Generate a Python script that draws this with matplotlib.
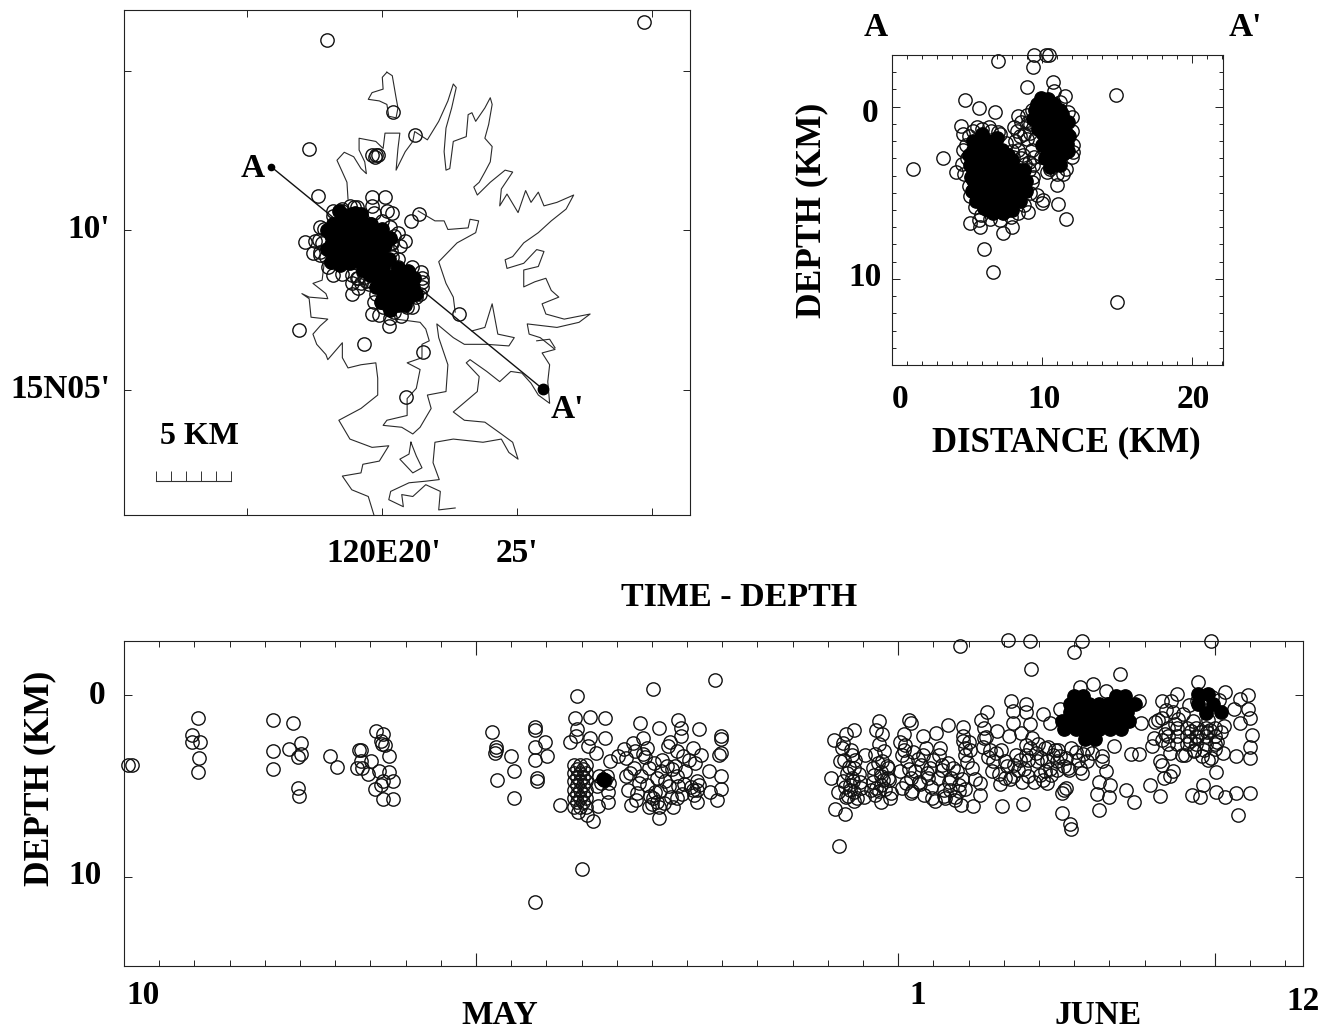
"""Seismicity figure: epicentre map, A-A' depth section and time-depth panel."""
import matplotlib
matplotlib.use("Agg")
import matplotlib.pyplot as plt
from matplotlib.ticker import FixedLocator

plt.rcParams["font.family"] = ["Liberation Serif", "DejaVu Serif"]
plt.rcParams["font.weight"] = "bold"

W, H = 1321, 1032

# --- map: longitude minutes past 120E, latitude minutes past 15N ---
coast_a_lon = [18.74, 18.70, 18.53, 18.33, 18.60, 18.95, 19.22, 19.42, 19.36, 19.15, 19.15, 19.77, 20.04, 20.11, 20.66, 20.59, 20.52, 20.86, 21.14, 21.21, 21.68, 22.10, 22.44, 22.64, 22.75, 22.58, 22.37, 22.30, 22.37, 22.51, 22.64, 23.12, 23.19, 23.33, 23.47, 23.81, 24.01, 24.08, 23.95, 23.81, 24.08, 24.01, 23.81, 23.60, 23.40, 23.53, 24.01, 24.56, 24.84, 24.42, 24.36, 24.63, 25.04, 25.32, 25.52, 25.79, 26.00, 26.48, 27.10, 26.82, 26.27, 25.79, 25.25, 24.84, 24.56, 24.63, 25.25, 25.73, 26.00, 25.79, 25.25, 25.25, 25.66, 26.07, 26.27, 26.55, 25.93, 26.07, 26.75, 27.71, 27.30, 26.48, 25.38, 25.45, 25.86, 26.41, 25.93, 26.21, 26.14, 26.21, 25.79, 25.52, 25.18, 24.77, 24.36, 23.88, 23.26, 23.12, 23.60, 23.53, 22.64, 23.05, 23.81, 24.42, 24.84, 25.04, 24.70, 24.42, 23.74, 22.64, 21.96, 21.89, 22.12, 21.62, 21.00, 20.32, 20.25, 20.79, 20.73, 21.14, 21.62, 22.16, 22.10, 22.71]
coast_a_lat = [10.97, 11.50, 11.82, 12.19, 12.44, 12.30, 11.93, 11.77, 12.14, 12.51, 12.88, 12.78, 12.56, 13.04, 13.04, 12.56, 11.88, 12.46, 12.78, 13.09, 12.83, 13.41, 14.05, 14.58, 14.47, 13.83, 13.20, 12.46, 11.88, 11.93, 12.78, 12.93, 13.62, 13.68, 13.41, 13.83, 14.15, 13.94, 13.31, 12.88, 12.62, 12.14, 11.82, 11.50, 11.35, 11.10, 11.50, 11.88, 11.82, 11.29, 10.76, 11.13, 10.55, 11.24, 10.87, 11.19, 10.76, 10.87, 11.10, 10.66, 10.29, 9.92, 9.60, 9.17, 9.07, 8.80, 8.96, 9.39, 9.33, 8.86, 8.75, 8.22, 8.38, 8.49, 8.11, 7.90, 7.69, 7.37, 7.21, 7.37, 7.11, 6.95, 7.06, 6.74, 6.63, 6.26, 6.15, 5.78, 5.25, 4.57, 4.83, 5.20, 5.52, 5.57, 5.25, 5.57, 5.94, 5.84, 5.41, 4.94, 4.30, 4.04, 3.98, 3.61, 3.35, 2.82, 3.03, 3.45, 3.35, 3.45, 3.35, 2.71, 2.18, 2.13, 2.08, 1.81, 1.55, 1.33, 1.71, 1.65, 2.02, 1.81, 1.23, 1.29]
coast_b_lon = [17.85, 17.78, 17.44, 17.92, 17.99, 17.30, 17.03, 17.30, 17.37, 17.99, 17.71, 17.44, 17.58, 17.92, 17.99, 18.53, 18.53, 18.74, 19.22, 19.77, 19.84, 19.84, 19.22, 18.40, 18.81, 19.63, 20.25, 19.90, 19.29, 19.22, 18.53, 18.88, 19.49, 19.70]
coast_b_lat = [8.91, 8.43, 8.33, 8.01, 7.85, 7.90, 8.01, 7.85, 7.27, 7.21, 7.00, 6.74, 6.42, 6.10, 5.94, 6.47, 6.00, 5.68, 5.78, 5.84, 5.36, 4.83, 4.41, 4.04, 3.45, 3.19, 3.24, 2.76, 2.66, 2.39, 2.29, 1.86, 1.65, 1.07]
coast_c_lon = [20.52, 21.41, 21.62, 21.75, 21.48, 21.48, 20.93, 21.41, 21.27, 20.93, 20.93, 20.18, 20.04, 20.73, 21.14, 21.41, 21.82, 21.68, 22.37, 22.44, 22.10, 22.03, 22.64, 23.05, 23.88, 24.70, 24.90, 24.29, 24.08, 23.81, 23.33]
coast_c_lat = [7.21, 7.11, 6.90, 6.53, 6.42, 6.00, 5.84, 5.63, 5.04, 4.72, 4.19, 4.04, 3.88, 3.82, 3.61, 3.82, 4.41, 4.83, 4.94, 5.78, 6.63, 7.06, 6.63, 6.42, 6.42, 6.37, 6.63, 6.74, 7.69, 6.95, 6.84]
coast_d_lon = [21.34, 21.96, 22.30, 22.44, 23.19, 23.26, 23.58, 23.47, 22.78, 22.10, 22.37, 22.64, 22.71]
coast_d_lat = [10.60, 10.29, 10.29, 10.02, 10.07, 10.34, 10.29, 9.92, 9.60, 9.01, 8.33, 7.90, 7.43]
coast_e_lon = [20.18, 20.38, 20.52, 20.59, 20.52, 20.25, 20.18, 19.90, 19.49, 19.63, 20.04, 20.01, 20.18]
coast_e_lat = [14.95, 14.84, 14.15, 13.83, 13.52, 13.57, 13.94, 14.05, 14.10, 14.31, 14.42, 14.79, 14.95]
coast_f_lon = [21.07, 21.27, 21.48, 21.14, 20.66, 21.00, 21.07]
coast_f_lat = [3.35, 2.92, 2.55, 2.39, 2.82, 2.98, 3.35]
coast_g_lon = [25.73, 26.21, 26.41]
coast_g_lat = [6.53, 6.58, 6.31]
coast_lon = [coast_a_lon, coast_b_lon, coast_c_lon, coast_d_lon, coast_e_lon, coast_f_lon, coast_g_lon]
coast_lat = [coast_a_lat, coast_b_lat, coast_c_lat, coast_d_lat, coast_e_lat, coast_f_lat, coast_g_lat]

map_lon = [17.95, 29.70, 20.42, 21.21, 17.30, 19.77, 19.63, 19.86, 19.74, 17.62, 20.11, 19.63, 19.63, 19.70, 20.38, 20.18, 21.38, 21.07, 20.86, 17.16, 17.51, 17.44, 17.71, 18.19, 18.53, 18.88, 18.88, 19.63, 20.27, 16.93, 19.33, 21.52, 22.85, 20.89, 21.48, 21.48, 20.45, 20.38, 19.08, 18.53,
           17.85, 17.78, 17.92, 18.19, 18.53, 18.95, 19.36, 19.90, 20.32, 20.38, 20.32, 19.77, 20.04, 20.45, 20.93, 21.27, 21.48, 19.36, 19.08, 19.22,
           17.70, 17.65, 17.70, 18.00, 18.20, 18.80, 18.90, 19.10, 19.30, 19.40, 19.10, 19.50, 20.60, 20.65, 20.60, 20.50, 20.00, 20.30,
           19.60, 19.70, 19.90, 20.30, 20.70, 21.10, 21.40, 21.45, 21.10, 20.60, 20.10]
map_lat = [15.95, 16.51, 13.71, 12.99, 12.54, 12.35, 12.37, 12.37, 12.28, 11.08, 11.05, 11.03, 10.76, 10.55, 10.53, 10.60, 10.52, 10.29, 9.65, 9.62, 9.65, 9.28, 9.23, 8.59, 8.62, 8.01, 8.35, 7.37, 7.00, 6.86, 6.42, 6.19, 7.37, 4.78, 8.49, 8.22, 9.81, 9.17, 10.71, 10.60,
           10.02, 9.60, 9.17, 10.44, 10.66, 10.71, 10.13, 9.92, 9.60, 9.60, 9.33, 8.01, 7.58, 7.43, 7.58, 7.90, 8.38, 8.54, 8.49, 8.33,
           10.10, 9.70, 9.30, 8.85, 10.60, 10.75, 8.60, 8.50, 8.70, 8.40, 8.20, 8.30, 9.90, 9.50, 9.10, 8.80, 10.30, 10.10,
           8.40, 7.75, 7.35, 7.25, 7.30, 7.60, 8.00, 8.70, 8.85, 8.85, 8.80]
map_core_lon = [18.53, 18.88, 19.22,
                18.19, 18.53, 18.88, 19.22, 19.56,
                18.12, 18.47, 18.81, 19.15, 19.49, 19.84,
                18.12, 18.47, 18.81, 19.15, 19.49, 19.84, 20.11,
                18.26, 18.60, 18.95, 19.29, 19.63, 19.97,
                18.81, 19.22, 19.63,
                19.90, 20.32, 20.73, 21.07,
                19.77, 20.11, 20.45, 20.79, 21.14,
                20.04, 20.38, 20.73, 21.00,
                20.25, 20.59, 20.86,
                17.97, 17.95, 18.10, 18.45, 20.25, 20.28, 20.00, 19.60, 19.00, 18.40, 19.30, 19.55, 19.70, 19.85,
                20.05, 20.60, 20.95, 21.20, 21.25, 19.95, 20.30]
map_core_lat = [10.50, 10.50, 10.50,
                10.18, 10.18, 10.18, 10.18, 10.18,
                9.86, 9.86, 9.86, 9.86, 9.86, 9.86,
                9.54, 9.54, 9.54, 9.54, 9.54, 9.54, 9.54,
                9.23, 9.23, 9.23, 9.23, 9.23, 9.23,
                8.96, 8.96, 8.96,
                8.54, 8.54, 8.54, 8.54,
                8.22, 8.22, 8.22, 8.22, 8.22,
                7.90, 7.90, 7.90, 7.90,
                7.64, 7.64, 7.64,
                10.00, 9.40, 9.00, 8.92, 9.10, 9.75, 10.05, 10.20, 10.55, 10.60, 8.75, 8.60, 8.85, 8.95,
                8.85, 8.80, 8.72, 8.50, 8.00, 7.75, 7.50]
profile_lon = [15.90, 25.97]
profile_lat = [11.98, 5.01]
lon_ticks = [15, 20, 25, 30]
lat_ticks = [5, 10, 15]
scale_lon = [11.63, 12.19, 12.74, 13.30, 13.85, 14.41]

# --- depth section ---
sec_dist = [1.42, 3.42, 4.27, 4.87, 5.80, 6.87, 7.09, 4.60, 5.69, 6.47, 7.09, 9.49, 10.27, 10.49, 9.42, 9.02, 10.71, 10.80, 11.53, 14.93, 15.02, 6.71, 6.13, 5.20, 5.87, 5.80, 7.42, 7.98, 9.09, 11.60, 11.09, 10.09, 9.98, 9.64, 10.98, 11.42, 10.53, 12.09, 12.09, 11.96, 8.42, 8.13, 8.53, 9.09, 8.98, 8.42, 9.42, 8.87, 4.76, 4.64, 4.76, 9.31, 9.47, 8.09,
            4.90, 5.00, 4.80, 5.10, 5.20, 5.50, 5.90, 6.50, 7.20, 7.90, 8.40, 8.80, 9.20, 9.30, 9.10, 8.60, 8.00, 7.60, 7.20, 6.60, 6.00, 5.40, 5.10,
            9.30, 9.20, 9.50, 9.90, 10.30, 11.00, 11.60, 12.00, 12.00, 11.70, 11.20,
            8.30, 8.20, 8.70, 9.10, 8.60, 9.20, 9.40, 8.80, 9.00]
sec_depth = [3.60, 2.97, 3.80, -0.39, 0.08, 0.33, -2.66, 1.10, 1.16, 1.19, 1.48, -2.99, -2.99, -2.99, -2.33, -1.12, -1.46, -0.92, -0.64, -0.66, 11.37, 9.58, 8.27, 6.74, 6.97, 6.59, 7.32, 7.01, 6.11, 6.53, 5.63, 5.43, 5.59, 5.14, 4.57, 3.89, 3.60, 2.64, 2.25, 0.62, 0.52, 1.16, 1.68, 0.91, 1.87, 2.54, 4.08, 3.31, 2.54, 3.31, 1.58, 2.54, 2.93, 2.93,
             2.20, 3.00, 3.90, 4.60, 5.20, 5.80, 6.30, 6.50, 6.60, 6.40, 6.20, 5.70, 5.00, 4.40, 3.70, 3.00, 2.60, 2.10, 1.60, 1.40, 1.30, 1.40, 1.70,
             0.20, 1.00, 1.90, 2.90, 3.80, 3.90, 3.60, 2.90, 1.40, 0.30, -0.30,
             1.40, 2.00, 2.80, 3.20, 0.90, 1.50, 3.40, 1.60, 0.50]
sec_core_dist = [5.64, 6.31, 6.87,
                 5.42, 6.09, 6.76, 7.31,
                 5.42, 6.09, 6.76, 7.42,
                 5.42, 6.09, 6.76, 7.42, 8.09, 8.53,
                 5.42, 6.09, 6.76, 7.42, 8.09, 8.64,
                 5.42, 6.09, 6.76, 7.42, 8.09, 8.64,
                 5.76, 6.42, 7.09, 7.76, 8.42,
                 6.42, 7.09, 7.76,
                 9.64, 10.20, 10.76,
                 9.64, 10.20, 10.76, 11.31,
                 9.98, 10.53, 11.09, 11.53,
                 10.09, 10.64, 11.20, 11.64,
                 10.20, 10.76, 11.31, 11.64,
                 10.31, 10.87, 11.42,
                 10.53, 11.09,
                 5.20, 5.25, 5.30, 5.60, 6.10, 6.75, 7.40, 8.00, 8.50, 8.90, 8.95, 8.80, 8.00, 7.70, 7.00, 6.00, 5.40, 5.10,
                 9.50, 9.40, 9.70, 10.00, 10.20, 10.50, 11.20, 11.70, 11.80, 11.70, 11.20, 10.40, 9.90]
sec_core_depth = [1.97, 1.97, 1.97,
                  2.54, 2.54, 2.54, 2.54,
                  3.12, 3.12, 3.12, 3.12,
                  3.70, 3.70, 3.70, 3.70, 3.70, 3.70,
                  4.28, 4.28, 4.28, 4.28, 4.28, 4.28,
                  4.86, 4.86, 4.86, 4.86, 4.86, 4.86,
                  5.43, 5.43, 5.43, 5.43, 5.43,
                  6.01, 6.01, 6.01,
                  -0.15, -0.15, -0.15,
                  0.42, 0.42, 0.42, 0.42,
                  1.00, 1.00, 1.00, 1.00,
                  1.58, 1.58, 1.58, 1.58,
                  2.16, 2.16, 2.16, 2.16,
                  2.74, 2.74, 2.74,
                  3.22, 3.22,
                  3.40, 4.10, 4.90, 5.50, 5.90, 6.15, 6.20, 6.00, 5.50, 4.90, 4.30, 3.70, 3.10, 2.80, 1.80, 1.60, 2.00, 2.80,
                  0.20, 0.70, 1.30, 2.20, 3.00, 3.50, 3.40, 2.60, 1.70, 0.90, 0.20, -0.45, -0.50]

# --- time-depth: days after 10 May ---
may_day = [0.11, 0.22, 2.10, 1.93, 1.93, 2.15, 2.12, 2.11, 4.22, 4.81, 5.04, 4.24, 4.69, 5.02, 4.94, 4.23, 4.94, 4.98, 5.84, 6.06, 6.68, 6.73, 7.16, 7.37, 7.30, 7.33, 7.43, 7.54, 6.73, 7.01, 6.76, 6.94, 7.24, 7.52, 7.65, 7.35, 7.30, 7.13, 7.35, 7.63, 6.62,
           10.45, 10.57, 10.55, 10.58, 11.00, 10.61, 11.07, 11.08, 11.67, 11.67, 11.95, 11.69, 12.03, 11.69, 11.73, 11.73, 11.67, 13.00, 12.88, 12.82, 13.24, 13.67, 12.88, 12.68, 13.24, 13.67, 12.85, 12.40, 13.32, 12.91, 13.16, 13.47, 13.75, 13.75, 13.41, 13.80, 13.19,
           12.79, 12.96, 13.13, 12.79, 12.96, 13.13, 12.79, 12.96, 13.13, 12.79, 12.96, 13.13, 12.79, 12.96, 13.13, 12.79, 12.96, 13.13,
           12.87, 13.05, 12.87, 13.05, 12.87, 13.05, 12.87, 13.05, 12.87, 13.05,
           13.50, 13.72, 13.55, 13.78, 13.66, 13.44,
           14.65, 15.19, 15.74, 16.33, 15.02, 16.78, 14.76, 14.46, 14.20, 14.03, 14.25, 14.48, 14.25, 14.31, 14.59, 14.42, 14.76, 14.87, 14.70, 14.93, 15.15, 14.87, 15.10, 15.15, 15.04, 15.21, 14.93, 15.21, 15.60, 15.71, 15.74, 15.71, 15.66, 15.47, 15.82, 15.82, 15.71, 16.16, 16.22, 15.43, 15.37, 15.94, 16.27, 16.27, 16.18, 16.27, 16.61, 16.95, 16.95, 16.66, 16.84, 16.95, 16.97, 16.95, 16.92,
           14.52, 14.80, 15.05, 15.30, 15.52, 15.88, 16.05, 16.40, 14.38, 14.62, 15.26, 15.58, 15.90, 16.12, 16.35, 14.95, 15.24, 15.48, 15.86, 15.00, 15.35, 15.55, 14.55, 16.20]
may_depth = [3.86, 3.86, 1.24, 2.22, 2.57, 2.57, 3.46, 4.23, 1.35, 1.53, 2.62, 3.09, 2.99, 3.27, 3.42, 4.07, 5.12, 5.53, 3.35, 3.97, 3.05, 3.00, 1.98, 2.13, 2.53, 2.68, 2.75, 3.36, 3.64, 3.64, 4.01, 4.34, 4.20, 4.23, 4.75, 4.75, 4.94, 5.18, 5.71, 5.71, 4.01,
             2.05, 2.87, 3.18, 3.00, 3.33, 4.68, 4.20, 5.67, 1.76, 1.94, 2.57, 2.87, 3.36, 3.60, 4.57, 4.75, 11.40, 9.59, 0.04, 1.24, 1.20, 1.28, 1.89, 2.57, 2.35, 2.38, 2.25, 6.04, 6.93, 6.41, 6.60, 6.10, 5.86, 5.31, 3.18, 3.64, 2.81,
             3.83, 3.83, 3.83, 4.29, 4.29, 4.29, 4.75, 4.75, 4.75, 5.21, 5.21, 5.21, 5.67, 5.67, 5.67, 6.14, 6.14, 6.14,
             4.05, 4.05, 4.51, 4.51, 4.97, 4.97, 5.43, 5.43, 5.90, 5.90,
             4.48, 4.48, 4.85, 4.85, 4.66, 5.03,
             1.55, 1.79, 1.37, 1.89, -0.35, -0.85, 2.35, 2.62, 2.99, 3.36, 3.49, 4.01, 4.47, 5.21, 5.40, 6.04, 3.27, 2.90, 4.47, 4.01, 4.57, 4.94, 5.31, 5.86, 5.67, 6.14, 6.14, 6.78, 6.14, 5.67, 5.03, 4.47, 3.92, 2.81, 1.79, 2.25, 3.09, 2.90, 3.73, 3.92, 4.75, 4.20, 4.75, 5.21, 5.21, 5.86, 4.20, 4.47, 5.16, 5.31, 5.77, 2.25, 2.44, 3.18, 3.31,
             3.10, 3.40, 3.75, 3.55, 2.60, 3.35, 3.60, 3.30, 4.30, 4.85, 4.20, 4.05, 4.90, 5.05, 4.95, 5.55, 5.30, 5.00, 5.45, 6.00, 5.95, 5.60, 5.75, 5.50]
june_day = [23.76, 25.11, 25.73, 27.22, 26.98, 25.77, 28.29, 30.88, 20.33,
            20.08, 20.16, 20.73, 20.52, 20.39, 20.68, 20.35, 20.73, 21.06, 20.68, 20.30, 20.52, 20.73, 20.95, 20.21, 20.50, 20.84, 20.63,
            21.44, 21.55, 21.44, 21.55, 21.28, 21.71, 21.50, 21.28, 21.71, 21.50, 21.77, 21.50, 21.33,
            22.31, 22.15, 22.36, 22.69, 23.07, 23.40, 23.83, 22.80, 23.18, 22.15, 22.26, 22.64, 22.04, 22.36, 22.91, 22.85, 22.58, 22.36, 22.96, 23.29, 23.45, 23.34, 23.61, 23.78, 24.13, 24.32, 24.32, 23.89, 23.83, 23.83, 23.89, 24.10, 23.56, 23.23, 23.72,
            24.52, 24.43, 24.43, 24.81, 25.14, 24.70, 24.67, 24.89, 24.94, 25.54, 25.19, 25.25, 25.63, 25.63, 26.11, 25.25, 25.73, 25.79, 25.35, 25.03, 25.63, 25.52, 25.68, 25.25,
            26.17, 26.39, 25.95, 26.22, 26.50, 26.77, 26.17, 26.50, 26.82, 27.15, 26.22, 26.66, 26.77, 26.72, 26.64, 26.88, 26.91, 26.60, 26.30,
            27.53, 27.15, 27.91, 28.83, 28.89, 28.61, 28.83, 27.80, 28.13, 27.91, 27.69, 28.02, 27.64, 27.98, 28.48, 28.69, 27.69, 27.80, 27.36,
            29.38, 29.48, 29.92, 29.76, 29.27, 29.21, 29.43, 29.48, 29.81, 29.54, 29.71, 29.14, 29.43, 29.59, 29.87, 30.14, 30.41, 30.79, 31.04, 31.22, 30.65, 30.35, 30.57, 31.04, 31.28, 31.60, 31.98, 31.66, 30.52, 31.28, 31.55, 31.71, 31.93, 31.93, 31.98, 31.71, 32.04, 31.98, 31.98, 31.60,
            29.65, 29.92, 30.19, 30.46, 30.73, 31.01, 29.65, 29.92, 30.19, 30.46, 30.73, 31.01, 29.65, 29.92, 30.19, 30.46, 30.73, 31.01]
june_depth = [-2.69, -3.00, -2.98, -2.98, -2.37, -1.44, -1.13, -2.98, 8.28,
              4.54, 2.50, 1.93, 2.17, 2.91, 3.28, 3.65, 4.02, 3.28, 4.57, 5.31, 5.59, 5.31, 5.13, 6.24, 6.52, 5.69, 4.94,
              1.43, 2.17, 2.72, 3.65, 4.02, 4.02, 4.48, 4.76, 4.57, 4.94, 5.65, 5.87, 5.50,
              1.39, 2.17, 1.52, 2.26, 2.07, 1.65, 1.76, 2.91, 2.91, 3.00, 3.65, 3.83, 4.20, 4.57, 4.02, 4.57, 4.76, 5.41, 5.69, 5.22, 4.76, 5.69, 5.59, 6.06, 6.11, 5.50, 4.85, 3.28, 2.54, 2.26, 2.91, 4.02, 4.02, 3.83, 4.94,
              0.96, 1.80, 2.35, 1.98, 2.26, 3.65, 4.20, 4.89, 6.09, 6.00, 0.31, 0.87, 0.50, 0.96, 1.06, 1.52, 1.61, 2.35, 3.28, 3.65, 3.28, 4.76, 4.48, 4.48,
              2.91, 3.28, 3.65, 3.65, 3.65, 3.46, 4.20, 4.11, 4.02, 4.02, 4.85, 5.41, 5.13, 5.25, 6.46, 7.07, 7.35, 0.78, 1.52,
              -0.61, -0.43, -0.24, 0.31, 1.52, 3.24, 3.22, 3.37, 2.81, 4.20, 4.76, 4.94, 5.46, 5.59, 5.22, 5.87, 6.30, 3.65, 3.65,
              1.39, 0.31, -0.06, 0.31, 2.35, 2.81, 3.65, 3.83, 4.20, 4.57, 4.48, 4.94, 5.54, 2.17, 1.61, 3.28, 3.09, 3.56, 4.24, 3.19, 4.94, 5.50, 5.59, 5.35, 5.63, 5.41, 5.41, 6.57, -0.70, -0.15, 0.78, 0.22, -0.02, 0.78, 1.24, 1.52, 2.22, 2.87, 3.46, 3.37,
              1.80, 1.80, 1.80, 1.80, 1.80, 1.80, 2.26, 2.26, 2.26, 2.26, 2.26, 2.26, 2.72, 2.72, 2.72, 2.72, 2.72, 2.72]
# the denser parts of the band, where circles overlap heavily
band_day = [20.45, 20.60, 20.78, 20.55, 20.42, 20.70, 20.88, 20.48, 20.62, 20.90, 20.58, 20.75, 21.02, 20.44, 20.66,
            21.35, 21.60, 21.42, 21.68, 21.30, 21.52, 21.75, 21.38, 21.62, 21.46, 21.80, 21.22, 21.58, 21.36,
            22.05, 22.20, 22.42, 22.12, 22.30, 22.55, 22.22, 22.48, 22.70, 22.10, 22.38, 22.62, 22.82, 23.00, 22.74, 23.15, 22.92, 23.25, 23.05, 23.40, 23.12, 23.50, 23.30, 23.66, 23.48, 23.80, 23.62, 23.95, 23.72, 24.05, 23.90, 24.18, 24.02,
            24.35, 24.50, 24.62, 24.40, 24.55, 24.78, 24.92, 25.08, 24.85, 25.02, 25.30, 25.45, 25.18, 25.40, 25.58, 25.75, 25.50, 25.85, 25.62, 25.92, 25.70, 26.05, 25.98, 26.10, 26.30, 26.02, 26.25, 26.45, 26.60, 26.35, 26.70, 26.55, 26.92, 26.85, 27.05, 27.25, 27.10, 27.35, 27.50, 27.22,
            29.30, 29.48, 29.62, 29.80, 29.95, 30.10, 30.25, 30.38, 30.50, 30.65, 30.80, 30.92, 31.10, 30.32, 30.60, 30.85, 31.18, 30.40, 30.70, 31.00, 29.72, 29.50, 30.05, 30.28, 30.62, 30.90, 31.25, 30.48, 30.78, 31.05]
band_depth = [3.55, 3.95, 3.60, 4.30, 4.75, 4.75, 4.35, 5.05, 5.25, 4.80, 5.55, 5.85, 5.60, 2.65, 3.05,
              3.25, 3.10, 3.75, 3.90, 4.40, 4.25, 4.70, 5.10, 5.15, 5.30, 5.40, 5.20, 4.70, 1.95,
              2.60, 2.75, 3.15, 3.30, 4.05, 3.50, 4.85, 4.20, 3.30, 5.10, 5.30, 4.90, 4.30, 3.60, 5.50, 3.30, 5.05, 4.15, 5.85, 3.75, 4.55, 4.55, 5.55, 4.20, 5.25, 4.60, 5.80, 3.70, 5.30, 3.05, 5.15, 4.60, 2.60,
              1.40, 2.30, 3.05, 2.85, 3.40, 3.20, 3.00, 3.90, 4.35, 4.55, 3.85, 3.55, 4.60, 4.15, 4.05, 2.90, 2.10, 4.80, 2.75, 3.20, 3.55, 3.45, 2.70, 4.65, 4.05, 4.40, 2.85, 3.05, 3.35, 4.40, 3.90, 3.05, 2.90, 4.15, 3.15, 3.25, 3.55, 2.95, 3.20, 4.30,
              1.50, 1.25, 0.85, 0.95, 1.30, 1.05, 0.55, 1.45, 0.35, 0.55, 1.35, 0.10, 0.25, 2.00, 2.05, 1.95, 2.05, 3.00, 3.00, 2.95, 3.20, 2.45, 3.30, 2.55, 3.35, 3.45, 1.70, 2.30, 2.05, 2.60]
td_core_day = [26.98, 27.26, 28.18, 28.45,
               26.88, 27.15, 27.42, 27.69, 27.96, 28.23, 28.51, 28.72,
               26.88, 27.15, 27.42, 27.69, 27.96, 28.23, 28.51,
               26.66, 26.93, 27.20, 27.47, 27.75, 28.02, 28.29, 28.56,
               26.71, 27.04, 27.36, 27.69, 28.02, 28.34,
               27.31, 27.58,
               30.52, 30.79, 30.95, 30.52, 30.73, 31.17, 13.60, 13.64]
td_core_depth = [0.04, 0.04, 0.04, 0.04,
                 0.50, 0.50, 0.50, 0.50, 0.50, 0.50, 0.50, 0.50,
                 0.96, 0.96, 0.96, 0.96, 0.96, 0.96, 0.96,
                 1.43, 1.43, 1.43, 1.43, 1.43, 1.43, 1.43, 1.43,
                 1.89, 1.89, 1.89, 1.89, 1.89, 1.89,
                 2.44, 2.44,
                 -0.05, -0.05, 0.50, 0.50, 1.00, 0.95, 4.60, 4.70]
day_ticks = list(range(0, 34))
day_long = [10, 22, 31]


def px_axes(left, top, right, bottom):
    return fig.add_axes([left / W, 1 - bottom / H, (right - left) / W, (bottom - top) / H])


def label(x, y, s, size=24, **kw):
    fig.text(x / W, 1 - y / H, s, ha=kw.pop("ha", "center"), va="center", fontsize=size,
             fontweight="bold", **kw)


def rings(ax, x, y):
    ax.plot(x, y, "o", mfc="none", mec="#111111", ms=9.6, mew=1.0, clip_on=False, zorder=3)


def solid(ax, x, y):
    ax.plot(x, y, "o", mfc="black", mec="black", ms=9.6, mew=1.0, clip_on=False, zorder=4)


def frame(ax):
    for s in ax.spines.values():
        s.set_linewidth(0.8)
        s.set_color("#222222")
    ax.tick_params(which="both", direction="in", top=True, right=True, width=0.7, color="#222222")


fig = plt.figure(figsize=(W / 100, H / 100), dpi=100)

# epicentre map
ax = px_axes(124, 10, 690, 515)
ax.set_xlim(10.44, 31.41)
ax.set_ylim(1.07, 16.9)
for lo, la in zip(coast_lon, coast_lat):
    ax.plot(lo, la, color="#2a2a2a", lw=0.8, zorder=2)
rings(ax, map_lon, map_lat)
solid(ax, map_core_lon, map_core_lat)
ax.plot(profile_lon, profile_lat, color="#111111", lw=1.0, zorder=2)
ax.plot(profile_lon[:1], profile_lat[:1], "o", color="k", ms=4.5)
ax.plot(profile_lon[1:], profile_lat[1:], "o", color="k", ms=7.5)
ax.plot(scale_lon, [2.13] * len(scale_lon), color="#333333", lw=0.8)
ax.vlines(scale_lon, 2.13, 2.44, color="#333333", lw=0.7)
ax.set_xticks(lon_ticks, [])
ax.set_yticks(lat_ticks, [])
ax.tick_params(length=5)
frame(ax)
label(384, 553, "120E20'")
label(517, 553, "25'")
label(110, 230, "10'", ha="right")
label(110, 390, "15N05'", ha="right")
label(253, 168, "A")
label(567, 409, "A'")
label(199, 436, "5 KM", size=23)

# depth section
ax = px_axes(892, 55, 1223, 365)
ax.set_xlim(0, 22.05)
ax.set_ylim(15, -3)
rings(ax, sec_dist, sec_depth)
solid(ax, sec_core_dist, sec_core_depth)
ax.set_xticks([0, 10, 20], ["", "", ""])
ax.set_yticks([0, 10], ["", ""])
ax.xaxis.set_minor_locator(FixedLocator(list(range(0, 23))))
ax.yaxis.set_minor_locator(FixedLocator(list(range(-3, 16))))
ax.tick_params(which="major", length=6)
ax.tick_params(which="minor", length=3)
frame(ax)
label(900, 400, "0")
label(1044, 400, "10")
label(1193, 400, "20")
label(870, 113, "0")
label(865, 278, "10")
label(1066, 443, "DISTANCE (KM)", size=25)
label(812, 210, "DEPTH (KM)", size=25.5, rotation=90)
label(876, 27, "A")
label(1245, 27, "A'")

# time-depth panel
ax = px_axes(124, 641, 1303, 966)
ax.set_xlim(0, 33.5)
ax.set_ylim(14.9, -2.97)
rings(ax, may_day, may_depth)
rings(ax, june_day, june_depth)
rings(ax, band_day, band_depth)
solid(ax, td_core_day, td_core_depth)
ax.set_xticks(day_ticks, [])
ax.set_yticks([0, 10], [])
ax.tick_params(length=4)
ax.tick_params(axis="y", length=6)
frame(ax)
ax.vlines(day_long, -2.97, -2.2, color="#222222", lw=0.8)
ax.vlines(day_long, 14.2, 14.9, color="#222222", lw=0.8)
label(739, 598, "TIME - DEPTH", size=24.5)
label(40, 778, "DEPTH (KM)", size=25.5, rotation=90)
label(97, 696, "0")
label(85, 876, "10")
label(143, 996, "10")
label(918, 996, "1")
label(1303, 1002, "12")
label(500, 1016, "MAY")
label(1098, 1016, "JUNE")

fig.savefig("out.png", dpi=100)
plt.close(fig)
